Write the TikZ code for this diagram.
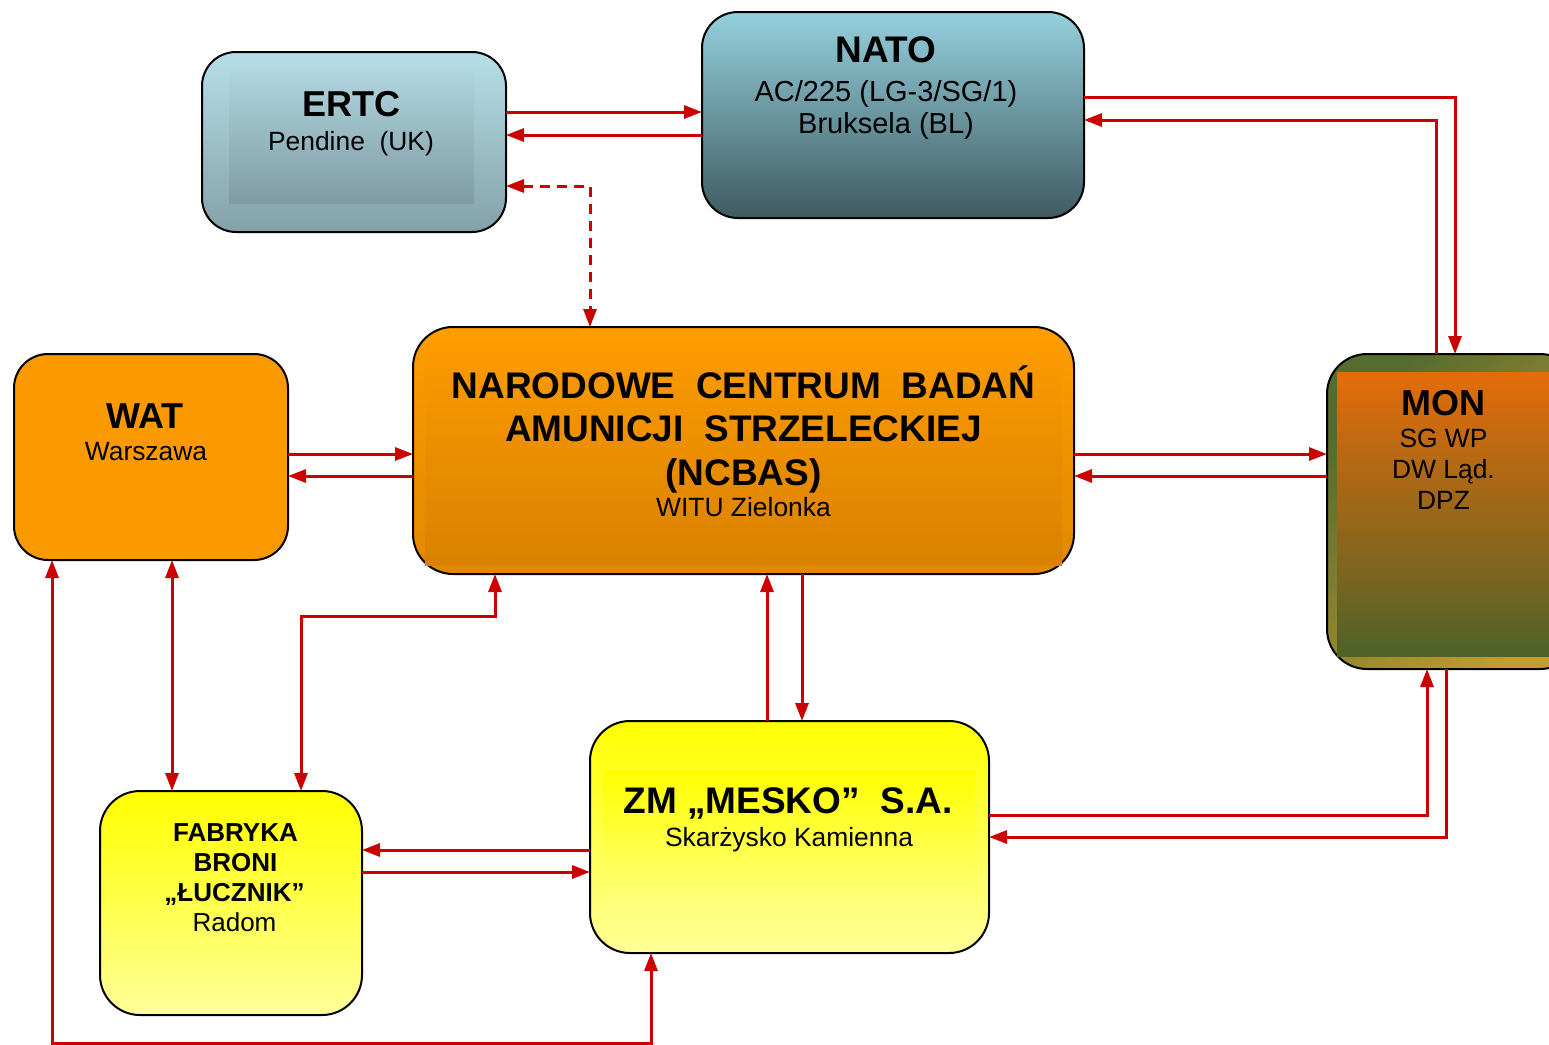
\documentclass[tikz,border=0pt]{standalone}
\usepackage{fontspec}
\setmainfont{Liberation Sans}
\usetikzlibrary{arrows.meta}
\definecolor{arrred}{HTML}{CC0000}
\definecolor{ertcT}{HTML}{B7DEE8}
\definecolor{ertcB}{HTML}{84A1A9}
\definecolor{ertcIT}{HTML}{AFD4DE}
\definecolor{ertcIB}{HTML}{7F9BA3}
\definecolor{natoT}{HTML}{94D0DD}
\definecolor{natoB}{HTML}{405A61}
\definecolor{watC}{HTML}{FB9A00}
\definecolor{ncT}{HTML}{FF9D00}
\definecolor{ncB}{HTML}{E08800}
\definecolor{ncIT}{HTML}{FD9B00}
\definecolor{ncIB}{HTML}{D98100}
\definecolor{yelT}{HTML}{FFFF00}
\definecolor{yelB}{HTML}{FFFF99}
\definecolor{yelIB}{HTML}{FFFF80}
\definecolor{monDark}{HTML}{556B2F}
\definecolor{monGold}{HTML}{C29C30}
\definecolor{monOr}{HTML}{E46C0A}
\definecolor{monMid}{HTML}{A0621D}
\definecolor{monGr}{HTML}{4F6228}
\begin{document}
\begin{tikzpicture}[x=0.5pt,y=-0.5pt,
  box/.style={draw=black, line width=1pt, rounded corners=17pt, inner sep=0pt, outer sep=0pt},
  tipA/.tip={Triangle[length=9pt,width=6.5pt]},
  conn/.style={draw=arrred, line width=1.5pt, -tipA},
  conn2/.style={draw=arrred, line width=1.5pt, tipA-tipA},
  ttl/.style={font=\bfseries\fontsize{18pt}{20pt}\selectfont, anchor=base, inner sep=0pt},
  sub/.style={font=\fontsize{13.2pt}{15pt}\selectfont, anchor=base, inner sep=0pt},
  fabt/.style={font=\bfseries\fontsize{13pt}{15pt}\selectfont, anchor=base, inner sep=0pt},
]
\useasboundingbox (0,0) rectangle (1549,1045);

% boxes
\node[box, top color=ertcT, bottom color=ertcB, minimum width=152pt, minimum height=90pt] (ertc) at (354,142) {};
\node[box, rounded corners=18pt, top color=natoT, bottom color=natoB, minimum width=191pt, minimum height=103pt] (nato) at (893,115) {};
\node[box, fill=watC, minimum width=137pt, minimum height=103pt] (wat) at (151,457) {};
\node[box, rounded corners=20pt, top color=ncT, bottom color=ncB, minimum width=330.5pt, minimum height=123.5pt] (ncbas) at (743.5,450.5) {};
\node[box, rounded corners=20pt, top color=monDark, bottom color=monGold, shading angle=45, minimum width=126.5pt, minimum height=157.5pt] (mon) at (1453.5,511.5) {};
\node[box, rounded corners=20pt, top color=yelT, bottom color=yelB, minimum width=131pt, minimum height=112pt] (fab) at (231,903) {};
\node[box, rounded corners=20pt, top color=yelT, bottom color=yelB, minimum width=199.5pt, minimum height=116pt] (mesko) at (789.5,837) {};

% inner panels
\shade[top color=ertcIT, bottom color=ertcIB] (229,72) rectangle (474,203);
\shade[top color=ncIT, bottom color=ncIB] (425,340) rectangle (1062,565);
\shade[top color=monOr, middle color=monMid, bottom color=monGr] (1337,372) rectangle (1590,656);
\shade[top color=yelT, bottom color=yelIB] (603,770) rectangle (975,905);

% texts
\node[ttl] (ertc-t1) at (351,116.5) {ERTC};
\node[sub] (ertc-t2) at (351,150) {Pendine~~(UK)};
\node[ttl, font=\bfseries\fontsize{18.5pt}{20pt}\selectfont] (nato-t1) at (886,62) {NATO};
\node[sub, font=\fontsize{14.5pt}{16pt}\selectfont] (nato-t2) at (886,101) {AC/225 (LG-3/SG/1)};
\node[sub, font=\fontsize{14.5pt}{16pt}\selectfont] (nato-t3) at (886,133) {Bruksela (BL)};
\node[ttl] (wat-t1) at (145,428) {WAT};
\node[sub] (wat-t2) at (146,460) {Warszawa};
\node[ttl, font=\bfseries\fontsize{18.5pt}{20pt}\selectfont] (nc-t1) at (743.5,398) {NARODOWE~~CENTRUM~~BADAŃ};
\node[ttl, font=\bfseries\fontsize{18.5pt}{20pt}\selectfont] (nc-t2) at (743.5,441.5) {AMUNICJI~~STRZELECKIEJ};
\node[ttl, font=\bfseries\fontsize{18.5pt}{20pt}\selectfont] (nc-t3) at (743.5,485) {(NCBAS)};
\node[sub] (nc-t4) at (743.5,516.5) {WITU Zielonka};
\node[ttl] (mon-t1) at (1443.5,415) {MON};
\node[sub] (mon-t2) at (1443.5,447) {SG WP};
\node[sub] (mon-t3) at (1443.5,478) {DW Ląd.};
\node[sub] (mon-t4) at (1443.5,509) {DPZ};
\node[ttl, font=\bfseries\fontsize{18.5pt}{20pt}\selectfont] (me-t1) at (788,813) {ZM „MESKO”~~S.A.};
\node[sub] (me-t2) at (789,846.7) {Skarżysko Kamienna};
\node[fabt] (fab-t1) at (235.5,841) {FABRYKA};
\node[fabt] (fab-t2) at (235.5,871) {BRONI};
\node[fabt] (fab-t3) at (234.5,901) {„ŁUCZNIK”};
\node[sub, font=\fontsize{13pt}{15pt}\selectfont] (fab-t4) at (234.5,931.7) {Radom};

% connectors
\draw[conn] (ertc.east |- 0,112) -- (nato.west |- 0,112);
\draw[conn] (nato.west |- 0,135) -- (ertc.east |- 0,135);
\draw[conn2, dash pattern=on 5pt off 3.5pt] (ertc.east |- 0,186) -| (ncbas.north -| 590,0);
\draw[conn] (nato.east |- 0,97) -| (mon.north -| 1455,0);
\draw[conn] (mon.north -| 1436,0) |- (nato.east |- 0,120);
\draw[conn] (wat.east |- 0,454) -- (ncbas.west |- 0,454);
\draw[conn] (ncbas.west |- 0,476) -- (wat.east |- 0,476);
\draw[conn] (ncbas.east |- 0,454) -- (mon.west |- 0,454);
\draw[conn] (mon.west |- 0,476) -- (ncbas.east |- 0,476);
\draw[conn2] (wat.south -| 172,0) -- (fab.north -| 172,0);
\draw[conn2] (ncbas.south -| 495,0) -- ++(0,42) -| (fab.north -| 301,0);
\draw[conn] (mesko.north -| 767,0) -- (ncbas.south -| 767,0);
\draw[conn] (ncbas.south -| 802,0) -- (mesko.north -| 802,0);
\draw[conn] (mesko.west |- 0,850) -- (fab.east |- 0,850);
\draw[conn] (fab.east |- 0,872) -- (mesko.west |- 0,872);
\draw[conn] (mesko.east |- 0,815) -| (mon.south -| 1427,0);
\draw[conn] (mon.south -| 1446,0) |- (mesko.east |- 0,837);
\draw[conn2] (wat.south -| 52,0) -- ++(0,483) -| (mesko.south -| 651,0);
\end{tikzpicture}
\end{document}
